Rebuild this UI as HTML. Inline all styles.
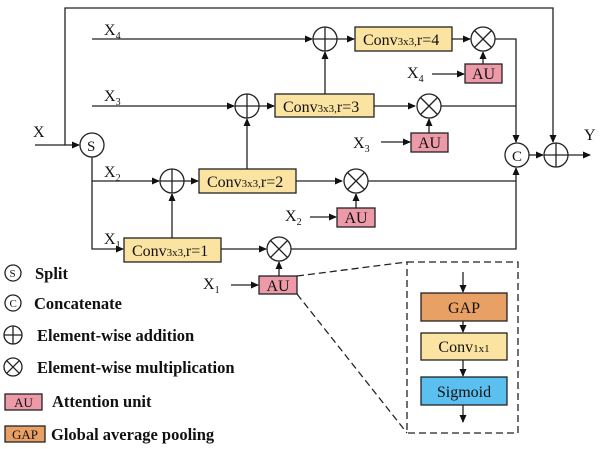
<!DOCTYPE html>
<html><head><meta charset="utf-8"><style>html,body{margin:0;padding:0;background:#fff}svg{display:block}text{font-family:"Liberation Serif",serif;fill:#111}</style></head><body>
<svg width="600" height="449" viewBox="0 0 600 449" xmlns="http://www.w3.org/2000/svg">
<defs><marker id="a" markerWidth="8" markerHeight="8" refX="7" refY="4" orient="auto" markerUnits="userSpaceOnUse"><path d="M0,0.5 L8,4 L0,7.5z" fill="#111"/></marker></defs>
<g stroke="#222" stroke-width="1.3" fill="none">
<line x1="35" y1="145" x2="79" y2="145" marker-end="url(#a)"/>
<polyline points="65,145 65,8 553,8 553,142" marker-end="url(#a)"/>
<polyline points="92,133 92,249 123,249" marker-end="url(#a)"/>
<polyline points="92,39 312,39" marker-end="url(#a)"/>
<line x1="92" y1="106" x2="234" y2="106" marker-end="url(#a)"/>
<line x1="92" y1="181" x2="159" y2="181" marker-end="url(#a)"/>
<line x1="172" y1="238" x2="172" y2="194" marker-end="url(#a)"/>
<line x1="221" y1="249" x2="266" y2="249" marker-end="url(#a)"/>
<line x1="279" y1="276" x2="279" y2="262" marker-end="url(#a)"/>
<line x1="231" y1="285" x2="258" y2="285" marker-end="url(#a)"/>
<polyline points="291,249 516,249 516,168" marker-end="url(#a)"/>
<line x1="184" y1="181" x2="198" y2="181" marker-end="url(#a)"/>
<line x1="247" y1="169" x2="247" y2="119" marker-end="url(#a)"/>
<line x1="296" y1="181" x2="342" y2="181" marker-end="url(#a)"/>
<line x1="356" y1="208" x2="356" y2="194" marker-end="url(#a)"/>
<line x1="310" y1="217" x2="336" y2="217" marker-end="url(#a)"/>
<line x1="367" y1="181" x2="516" y2="181"/>
<line x1="259" y1="106" x2="274" y2="106" marker-end="url(#a)"/>
<line x1="325" y1="94" x2="325" y2="52" marker-end="url(#a)"/>
<line x1="374" y1="106" x2="415" y2="106" marker-end="url(#a)"/>
<line x1="429" y1="133" x2="429" y2="119" marker-end="url(#a)"/>
<line x1="381" y1="142" x2="410" y2="142" marker-end="url(#a)"/>
<line x1="441" y1="106" x2="516" y2="106"/>
<line x1="337" y1="39" x2="354" y2="39" marker-end="url(#a)"/>
<line x1="452" y1="39" x2="470" y2="39" marker-end="url(#a)"/>
<line x1="483" y1="64" x2="483" y2="52" marker-end="url(#a)"/>
<line x1="432" y1="74" x2="464" y2="74" marker-end="url(#a)"/>
<polyline points="495,39 516,39 516,142" marker-end="url(#a)"/>
<line x1="529" y1="155" x2="543" y2="155" marker-end="url(#a)"/>
<line x1="568" y1="155" x2="590" y2="155" marker-end="url(#a)"/>
<rect x="407" y="262" width="111" height="171" stroke-dasharray="7,4"/>
<line x1="297" y1="276" x2="407" y2="262" stroke-dasharray="7,4"/>
<line x1="297" y1="294" x2="407" y2="433" stroke-dasharray="7,4"/>
<line x1="463" y1="272" x2="463" y2="292" marker-end="url(#a)"/>
<line x1="463" y1="321" x2="463" y2="332" marker-end="url(#a)"/>
<line x1="463" y1="360" x2="463" y2="376" marker-end="url(#a)"/>
<line x1="463" y1="405" x2="463" y2="422" marker-end="url(#a)"/>
</g>
<g stroke="#222" stroke-width="1.3" fill="#fff">
<circle cx="92" cy="145" r="12"/>
<circle cx="517" cy="155" r="12"/>
<circle cx="172" cy="181" r="12"/><path d="M160,181h24M172,169v24" fill="none"/>
<circle cx="247" cy="106" r="12"/><path d="M235,106h24M247,94v24" fill="none"/>
<circle cx="325" cy="39" r="12"/><path d="M313,39h24M325,27v24" fill="none"/>
<circle cx="556" cy="155" r="12"/><path d="M544,155h24M556,143v24" fill="none"/>
<circle cx="279" cy="249" r="12"/><path d="M270.5,240.5l17,17M287.5,240.5l-17,17" fill="none"/>
<circle cx="356" cy="181" r="12"/><path d="M347.5,172.5l17,17M364.5,172.5l-17,17" fill="none"/>
<circle cx="429" cy="106" r="12"/><path d="M420.5,97.5l17,17M437.5,97.5l-17,17" fill="none"/>
<circle cx="483" cy="39" r="12"/><path d="M474.5,30.5l17,17M491.5,30.5l-17,17" fill="none"/>
<rect x="124" y="238" width="97" height="24" fill="#fbe3a1"/>
<rect x="199" y="169" width="97" height="24" fill="#fbe3a1"/>
<rect x="275" y="94" width="99" height="23" fill="#fbe3a1"/>
<rect x="355" y="27" width="97" height="24" fill="#fbe3a1"/>
<rect x="259" y="276" width="38" height="18" fill="#ec9aa8"/>
<rect x="337" y="208" width="38" height="19" fill="#ec9aa8"/>
<rect x="411" y="133" width="37" height="19" fill="#ec9aa8"/>
<rect x="465" y="64" width="37" height="19" fill="#ec9aa8"/>
<rect x="421" y="293" width="86" height="28" fill="#e9a064"/>
<rect x="421" y="333" width="86" height="27" fill="#fbe3a1"/>
<rect x="421" y="377" width="86" height="28" fill="#5bc0f0"/>
<circle cx="13" cy="273" r="8"/><circle cx="13" cy="303" r="8"/>
<circle cx="13" cy="335" r="9"/><path d="M4,335h18M13,326v18" fill="none"/>
<circle cx="13" cy="367" r="9"/><path d="M6.6,360.6l12.8,12.8M19.4,360.6l-12.8,12.8" fill="none"/>
<rect x="5" y="394" width="37" height="16" fill="#ec9aa8"/>
<rect x="5" y="426" width="40" height="16" fill="#e9a064"/>
</g>
<g font-size="16">
<text x="87" y="151" font-size="15">S</text>
<text x="512" y="161" font-size="15">C</text>
<text x="33" y="137">X</text><text x="584" y="140">Y</text>
<text x="104" y="35">X<tspan font-size="10" dy="4">4</tspan></text>
<text x="104" y="101">X<tspan font-size="10" dy="4">3</tspan></text>
<text x="104" y="177">X<tspan font-size="10" dy="4">2</tspan></text>
<text x="104" y="244">X<tspan font-size="10" dy="4">1</tspan></text>
<text x="203" y="289">X<tspan font-size="10" dy="4">1</tspan></text>
<text x="285" y="221">X<tspan font-size="10" dy="4">2</tspan></text>
<text x="353" y="148">X<tspan font-size="10" dy="4">3</tspan></text>
<text x="407" y="78">X<tspan font-size="10" dy="4">4</tspan></text>
<text x="132" y="256">Conv<tspan font-size="11">3x3,</tspan>r=1</text>
<text x="207" y="187">Conv<tspan font-size="11">3x3,</tspan>r=2</text>
<text x="283" y="112">Conv<tspan font-size="11">3x3,</tspan>r=3</text>
<text x="363" y="45">Conv<tspan font-size="11">3x3,</tspan>r=4</text>
<text x="278" y="291" text-anchor="middle">AU</text>
<text x="356" y="223" text-anchor="middle">AU</text>
<text x="429.5" y="148" text-anchor="middle">AU</text>
<text x="483.5" y="79" text-anchor="middle">AU</text>
<text x="464" y="313" text-anchor="middle">GAP</text>
<text x="464" y="352" text-anchor="middle">Conv<tspan font-size="11">1x1</tspan></text>
<text x="464" y="397" text-anchor="middle">Sigmoid</text>
<text x="9.5" y="277" font-size="11">S</text><text x="9.5" y="307" font-size="11">C</text>
<text x="23.5" y="407" font-size="13" text-anchor="middle">AU</text>
<text x="25" y="439" font-size="13" text-anchor="middle">GAP</text>
<g font-weight="bold" font-size="16.5">
<text x="35" y="279">Split</text>
<text x="34" y="309">Concatenate</text>
<text x="37" y="341">Element-wise addition</text>
<text x="37" y="373">Element-wise multiplication</text>
<text x="52" y="407">Attention unit</text>
<text x="51" y="440">Global average pooling</text>
</g>
</g>
</svg>
</body></html>
